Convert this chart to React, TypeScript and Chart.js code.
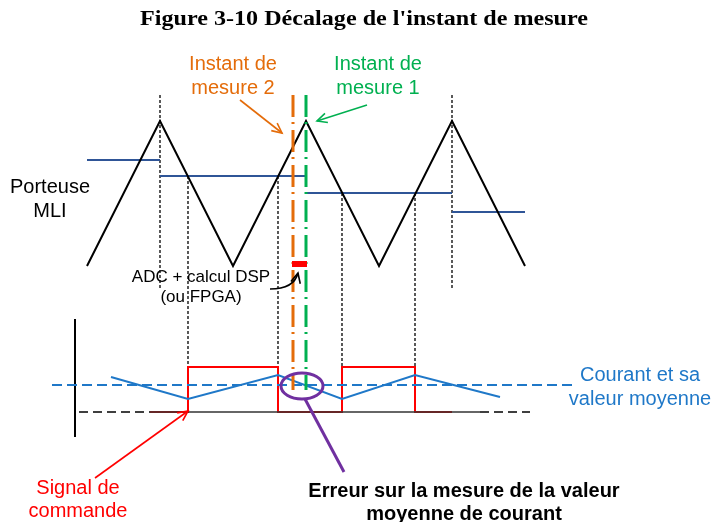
import React, { useEffect, useRef } from "react";
import { Chart, registerables } from "chart.js";

Chart.register(...registerables);

// ---- Diagram data (in reference pixel units) ----
const TITLE = "Figure 3-10 Décalage de l'instant de mesure";

// PWM carrier (triangle)
const carrierX = [87, 160, 233, 306, 379, 452, 525];
const carrierY = [266, 121, 266, 121, 266, 121, 266];

// Modulating reference (sampled steps)
const dutyEdges = [87, 160, 306, 452, 525];
const dutyLevels = [160, 176, 193, 212];

// Black guide lines (vertical, fine dashed)
const guideX = [160, 452, 188, 278, 342, 415];
const guideTop = [95, 95, 176, 176, 193, 193];
const guideBottom = [290, 290, 367, 367, 367, 367];

// Current waveform
const currentX = [111, 188, 278, 342, 415, 500];
const currentY = [377, 399, 375, 399, 375, 397];

// Command signal
const commandX = [150, 188, 188, 278, 278, 342, 342, 415, 415, 452];
const commandY = [412, 412, 367, 367, 412, 412, 367, 367, 412, 412];

// Zero line
const baseY = 412;
const baseDashLeft = [79, 150];
const baseSolid = [150, 480];
const baseDashRight = [480, 530];

// Mean current
const meanX = [52, 573];
const meanY = 385;

// Measurement instants
const measure2X = 293;
const measure1X = 306;
const measureSpan = [95, 390];

// Vertical axis of lower plot
const axisX = 75;
const axisSpan = [319, 437];

const SANS = "'Liberation Sans', Arial, sans-serif";
const labels = [
  { text: "Instant de", x: 233, y: 64, color: "#E46C0A", font: `20px ${SANS}` },
  { text: "mesure 2", x: 233, y: 88, color: "#E46C0A", font: `20px ${SANS}` },
  { text: "Instant de", x: 378, y: 64, color: "#00B050", font: `20px ${SANS}` },
  { text: "mesure 1", x: 378, y: 88, color: "#00B050", font: `20px ${SANS}` },
  { text: "Porteuse", x: 50, y: 187, color: "#000000", font: `20px ${SANS}` },
  { text: "MLI", x: 50, y: 211, color: "#000000", font: `20px ${SANS}` },
  { text: "ADC + calcul DSP", x: 201, y: 277, color: "#000000", font: `17px ${SANS}` },
  { text: "(ou FPGA)", x: 201, y: 297, color: "#000000", font: `17px ${SANS}` },
  { text: "Courant et sa", x: 640, y: 375, color: "#1F78C8", font: `20px ${SANS}` },
  { text: "valeur moyenne", x: 640, y: 399, color: "#1F78C8", font: `20px ${SANS}` },
  { text: "Signal de", x: 78, y: 488, color: "#FF0000", font: `20px ${SANS}` },
  { text: "commande", x: 78, y: 511, color: "#FF0000", font: `20px ${SANS}` },
  { text: "Erreur sur la mesure de la valeur", x: 464, y: 491, color: "#000000", font: `bold 20px ${SANS}` },
  { text: "moyenne de courant", x: 464, y: 514, color: "#000000", font: `bold 20px ${SANS}` },
];

const arrows = [
  { from: [240, 100], to: [282, 133], color: "#E46C0A" },
  { from: [367, 105], to: [317, 121], color: "#00B050" },
  { from: [95, 478], to: [188, 411], color: "#FF0000" },
];

const pts = (xs: number[], ys: number[]) => xs.map((x, i) => ({ x, y: ys[i] }));

export default function App() {
  const ref = useRef<HTMLCanvasElement | null>(null);

  useEffect(() => {
    document.body.style.margin = "0";
    const canvas = ref.current!;
    const datasets: any[] = [];
    const line = (data: any[], color: string, width: number, dash: number[] = [], order = 5) =>
      datasets.push({
        data,
        borderColor: color,
        borderWidth: width,
        borderDash: dash,
        showLine: true,
        pointRadius: 0,
        fill: false,
        tension: 0,
        order,
      });

    guideX.forEach((x, i) =>
      line([{ x, y: guideTop[i] }, { x, y: guideBottom[i] }], "#000000", 1.3, [3, 2], 9)
    );
    line(pts(carrierX, carrierY), "#000000", 2, [], 6);
    dutyLevels.forEach((lv, i) =>
      line([{ x: dutyEdges[i], y: lv }, { x: dutyEdges[i + 1], y: lv }], "#2F5597", 2, [], 6)
    );
    line(pts(commandX, commandY), "#FF0000", 2, [], 7);
    line([{ x: baseDashLeft[0], y: baseY }, { x: baseDashLeft[1], y: baseY }], "#000000", 1.6, [9, 5], 6);
    line([{ x: baseSolid[0], y: baseY }, { x: baseSolid[1], y: baseY }], "#333333", 1.6, [], 6);
    line([{ x: baseDashRight[0], y: baseY }, { x: baseDashRight[1], y: baseY }], "#000000", 1.6, [9, 5], 6);
    line(pts(currentX, currentY), "#1F78C8", 2, [], 4);
    line([{ x: meanX[0], y: meanY }, { x: meanX[1], y: meanY }], "#1F78C8", 2, [10, 5], 4);
    line([{ x: axisX, y: axisSpan[0] }, { x: axisX, y: axisSpan[1] }], "#000000", 2, [], 5);
    line([{ x: measure2X, y: measureSpan[0] }, { x: measure2X, y: measureSpan[1] }], "#E46C0A", 3, [22, 5, 2, 6], 2);
    line([{ x: measure1X, y: measureSpan[0] }, { x: measure1X, y: measureSpan[1] }], "#00B050", 3, [22, 5, 2, 6], 2);

    const annot = {
      id: "annot",
      afterDatasetsDraw(chart: any) {
        const { ctx } = chart;
        const sx = (v: number) => chart.scales.x.getPixelForValue(v);
        const sy = (v: number) => chart.scales.y.getPixelForValue(v);
        ctx.save();
        ctx.fillStyle = "#FF0000";
        ctx.fillRect(sx(measure2X - 1), sy(261), sx(measure1X + 1) - sx(measure2X - 1), sy(267) - sy(261));

        const head = (x1: number, y1: number, ang: number, color: string) => {
          ctx.strokeStyle = color;
          ctx.beginPath();
          const L = 11;
          ctx.moveTo(x1 - L * Math.cos(ang - 0.45), y1 - L * Math.sin(ang - 0.45));
          ctx.lineTo(x1, y1);
          ctx.lineTo(x1 - L * Math.cos(ang + 0.45), y1 - L * Math.sin(ang + 0.45));
          ctx.stroke();
        };
        ctx.lineWidth = 1.6;
        ctx.setLineDash([]);
        arrows.forEach((a) => {
          const x0 = sx(a.from[0]), y0 = sy(a.from[1]), x1 = sx(a.to[0]), y1 = sy(a.to[1]);
          ctx.strokeStyle = a.color;
          ctx.beginPath();
          ctx.moveTo(x0, y0);
          ctx.lineTo(x1, y1);
          ctx.stroke();
          head(x1, y1, Math.atan2(y1 - y0, x1 - x0), a.color);
        });
        ctx.strokeStyle = "#000000";
        ctx.beginPath();
        ctx.moveTo(sx(270), sy(289));
        ctx.quadraticCurveTo(sx(294), sy(289), sx(298), sy(273));
        ctx.stroke();
        head(sx(298), sy(273), Math.atan2(-16, 4), "#000000");

        ctx.strokeStyle = "#7030A0";
        ctx.lineWidth = 3;
        ctx.beginPath();
        ctx.ellipse(sx(302), sy(386), 21, 13, 0, 0, Math.PI * 2);
        ctx.stroke();
        ctx.beginPath();
        ctx.moveTo(sx(305), sy(399));
        ctx.lineTo(sx(344), sy(472));
        ctx.stroke();

        ctx.textAlign = "center";
        ctx.textBaseline = "middle";
        labels.forEach((l) => {
          ctx.font = l.font;
          ctx.fillStyle = l.color;
          ctx.fillText(l.text, sx(l.x), sy(l.y));
        });
        // title, stretched to the reference width
        ctx.font = "bold 21px 'Liberation Serif', 'Times New Roman', serif";
        ctx.fillStyle = "#000000";
        const w = ctx.measureText(TITLE).width;
        const k = 448 / w;
        ctx.translate(sx(364), sy(20));
        ctx.scale(k, 1);
        ctx.fillText(TITLE, 0, 0);
        ctx.restore();
      },
    };

    const chart = new Chart(canvas, {
      type: "scatter",
      data: { datasets },
      options: {
        animation: false,
        responsive: false,
        maintainAspectRatio: false,
        layout: { padding: 0 },
        plugins: { legend: { display: false }, tooltip: { enabled: false } },
        scales: {
          x: { type: "linear", min: 0, max: 714, display: false },
          y: { type: "linear", min: 0, max: 522, reverse: true, display: false },
        },
      },
      plugins: [annot],
    });
    return () => chart.destroy();
  }, []);

  return <canvas ref={ref} width={714} height={522} style={{ display: "block", width: 714, height: 522 }} />;
}
